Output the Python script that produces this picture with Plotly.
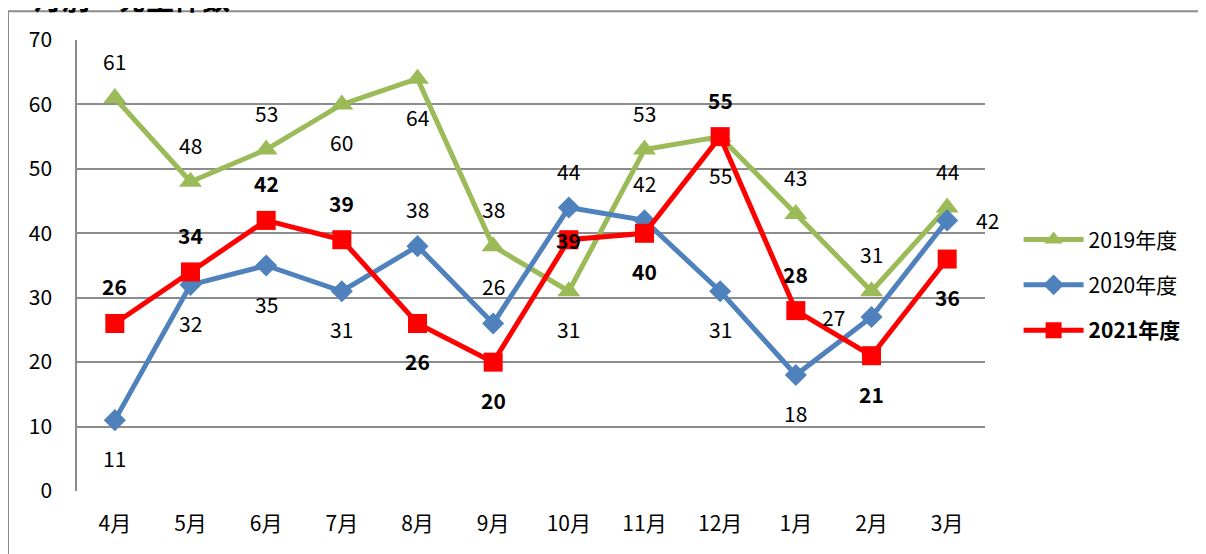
import plotly.graph_objects as go

months = ['4月', '5月', '6月', '7月', '8月', '9月', '10月', '11月', '12月', '1月', '2月', '3月']
fy2019 = [61, 48, 53, 60, 64, 38, 31, 53, 55, 43, 31, 44]
fy2020 = [11, 32, 35, 31, 38, 26, 44, 42, 31, 18, 27, 42]
fy2021 = [26, 34, 42, 39, 26, 20, 39, 40, 55, 28, 21, 36]

# where each data label sits relative to its point: u=above, d=below, l=left, r=right, c=on point
pos2019 = ['u', 'u', 'u', 'd', 'd', 'u', 'd', 'u', 'd', 'u', 'u', 'u']
pos2020 = ['d', 'd', 'd', 'd', 'u', 'u', 'u', 'u', 'd', 'd', 'l', 'r']
pos2021 = ['u', 'u', 'u', 'u', 'd', 'd', 'c', 'd', 'u', 'u', 'd', 'd']

FONT = 'Noto Sans CJK JP'
GREEN = '#9BBB59'
BLUE = '#4F81BD'
RED = '#FF0000'

fig = go.Figure()

fig.add_trace(go.Scatter(
    x=months, y=fy2019, name='2019年度', mode='lines+markers', legendgroup='g2019',
    line=dict(color=GREEN, width=5),
    marker=dict(symbol='triangle-up', size=20, color=GREEN)
))
fig.add_trace(go.Scatter(
    x=months, y=fy2020, name='2020年度', mode='lines+markers', legendgroup='g2020',
    line=dict(color=BLUE, width=5),
    marker=dict(symbol='diamond', size=17, color=BLUE)
))
fig.add_trace(go.Scatter(
    x=months, y=fy2021, name='<b>2021年度</b>', mode='lines+markers', legendgroup='g2021',
    line=dict(color=RED, width=5),
    marker=dict(symbol='square', size=19, color=RED)
))

shift = {'u': (0, 37), 'd': (0, -38), 'l': (-38, 0), 'r': (40, 0), 'c': (0, 0)}


def add_labels(values, positions, bold=False):
    for m, v, p in zip(months, values, positions):
        dx, dy = shift[p]
        fig.add_annotation(
            x=m, y=v, text=f'<b>{v}</b>' if bold else str(v),
            showarrow=False, xshift=dx, yshift=dy,
            font=dict(family=FONT, size=21, color='black')
        )


add_labels(fy2019, pos2019)
add_labels(fy2020, pos2020)
add_labels(fy2021, pos2021, bold=True)

# title, mostly cut off at the top edge like the original
fig.add_annotation(
    x=-0.05, y=1.094, xref='paper', yref='paper', xanchor='left', yanchor='middle',
    text='<b>月別・発生件数</b>', showarrow=False,
    font=dict(family=FONT, size=28, color='black')
)

# outer chart border
fig.add_shape(
    type='rect', xref='paper', yref='paper',
    x0=-0.076, x1=1.4, y0=-0.3, y1=1.064,
    line=dict(color='#8c8c8c', width=2), layer='below'
)

fig.update_layout(
    width=1198, height=546,
    margin=dict(l=69, r=221, t=32, b=63),
    paper_bgcolor='white', plot_bgcolor='white',
    font=dict(family=FONT, size=21, color='black'),
    showlegend=True,
    legend=dict(
        x=1.037, y=0.457, xanchor='left', yanchor='middle',
        font=dict(family=FONT, size=21, color='black'),
        tracegroupgap=15, itemwidth=60
    ),
    xaxis=dict(
        range=[-0.5, len(months) - 0.5],
        showgrid=False, showline=False, ticks='',
        tickfont=dict(family=FONT, size=21),
        ticklabelstandoff=18
    ),
    yaxis=dict(
        range=[0, 70], dtick=10, showgrid=True, gridcolor='#8c8c8c', gridwidth=1.5,
        showline=True, linecolor='#8c8c8c', linewidth=1.5, mirror=False,
        zeroline=False, ticks='',
        tickfont=dict(family=FONT, size=21),
        ticklabelstandoff=19
    )
)

fig.write_html('out.html')
